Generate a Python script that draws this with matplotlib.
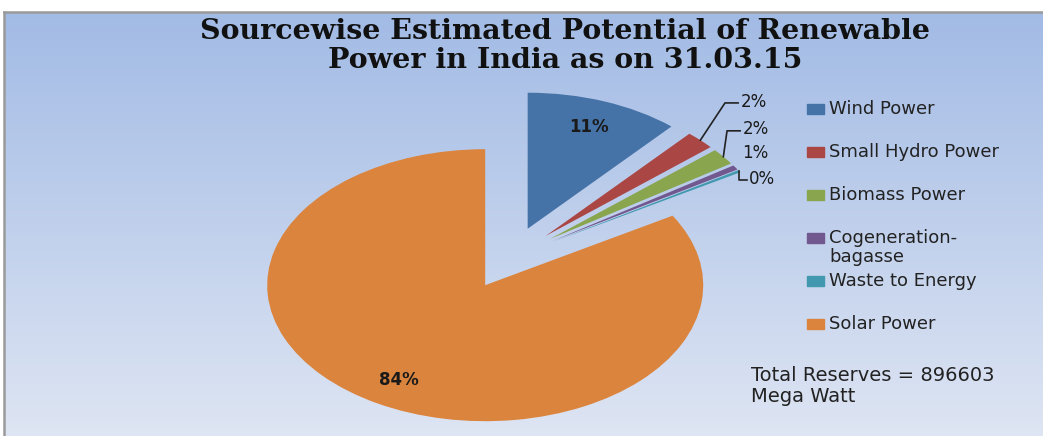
import numpy as np
import matplotlib.pyplot as plt
from matplotlib.patches import Rectangle

# Estimated potential (MW) as on 31.03.15
sources = ["Wind Power", "Small Hydro Power", "Biomass Power",
           "Cogeneration-\nbagasse", "Waste to Energy", "Solar Power"]
potential_mw = [102772, 19749, 17536, 5000, 2556, 748990]
colors = ["#4572A7", "#AA4643", "#89A54E", "#71588F", "#4198AF", "#DB843D"]
total_mw = sum(potential_mw)

W, H = 1043, 436
fig = plt.figure(figsize=(W / 100, H / 100), dpi=100)

# gradient backdrop with a thin grey frame on the left and top
bg = fig.add_axes([4 / W, 0, (W - 4) / W, (H - 12) / H])
grad = np.linspace(0, 1, 256)[:, None]
top = np.array([0.635, 0.733, 0.898])
bot = np.array([0.870, 0.898, 0.953])
img = top[None, None, :] * (1 - grad[..., None]) + bot[None, None, :] * grad[..., None]
bg.imshow(img, aspect="auto", extent=[0, 1, 0, 1], zorder=0)
bg.set_xticks([])
bg.set_yticks([])
for side in ["right", "bottom"]:
    bg.spines[side].set_visible(False)
for side in ["left", "top"]:
    bg.spines[side].set_color("#9a9a9a")
    bg.spines[side].set_linewidth(1.8)

fig.text(565 / W, 1 - 46 / H,
         "Sourcewise Estimated Potential of Renewable\nPower in India as on 31.03.15",
         ha="center", va="center", fontsize=20.5, fontweight="bold",
         family="DejaVu Serif", color="#111111", linespacing=1.1)

# pie axes, stretched horizontally so the pie is an ellipse
ax = fig.add_axes([237.5 / W, 8 / H, 545 / W, 340 / H])
ax.patch.set_alpha(0)
wedges, _ = ax.pie(potential_mw, colors=colors, explode=[0.23] * 6,
                   startangle=90, counterclock=False, radius=1,
                   wedgeprops=dict(linewidth=0))
ax.set_aspect("auto")
ax.set_xlim(-1.25, 1.25)
ax.set_ylim(-1.25, 1.25)
ax.axis("off")

pcts = [f"{100 * v / total_mw:.0f}%" for v in potential_mw]

# elbow offsets for leader lines of the thin slices (None -> no line)
elbows = {1: (0.113, 0.274, 0.06), 2: (0.017, 0.19, 0.06),
          3: None, 4: (0.0, -0.067, 0.035)}
free_pos = {3: (1.064, 0.77)}

for i, w in enumerate(wedges):
    mid = np.deg2rad((w.theta1 + w.theta2) / 2)
    cx, cy = w.center
    ux, uy = np.cos(mid), np.sin(mid)
    if i in (0, 5):
        ax.text(cx + 0.8 * ux, cy + 0.8 * uy, pcts[i], ha="center", va="center",
                fontsize=12, fontweight="bold", color="#1a1a1a")
        continue
    tx, ty = cx + ux, cy + uy
    if elbows[i] is None:
        lx, ly = free_pos[i]
    else:
        dx, dy, run = elbows[i]
        ex, ey = tx + dx, ty + dy
        ax.plot([tx, ex, ex + run], [ty, ey, ey], color="#222222", lw=1.2,
                clip_on=False)
        lx, ly = ex + run + 0.01, ey + 0.01
    ax.text(lx, ly, pcts[i], ha="left", va="center", fontsize=12,
            color="#1a1a1a", clip_on=False)

# legend drawn as swatches and labels down the right side
y0, step = 1 - 109 / H, 43 / H
for i, (name, c) in enumerate(zip(sources, colors)):
    y = y0 - i * step
    two_lines = "\n" in name
    fig.patches.append(Rectangle((807 / W, y - 5 / H), 17 / W, 10 / H,
                                 transform=fig.transFigure, color=c))
    fig.text(829 / W, y + (9 / H if two_lines else 0), name, ha="left",
             va="top" if two_lines else "center",
             fontsize=13, color="#222222", linespacing=1.05)

fig.text(751 / W, 1 - 386 / H, f"Total Reserves = {total_mw}\nMega Watt",
         ha="left", va="center", fontsize=14, color="#222222", linespacing=1.1)

fig.savefig("out.png", dpi=100)
